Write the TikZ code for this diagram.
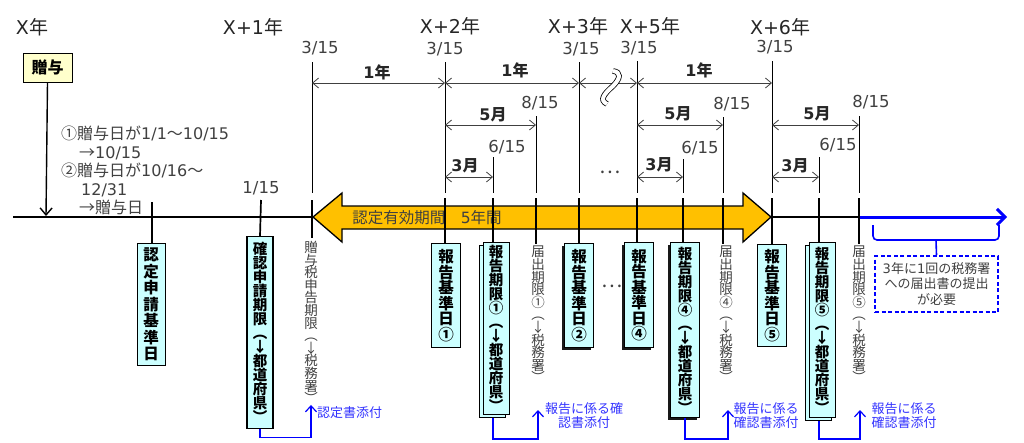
\documentclass[tikz,border=0pt]{standalone}
\usepackage{fontspec}
\setmainfont{Noto Sans CJK JP}
\newfontfamily\lat{DejaVu Sans}
\usetikzlibrary{arrows.meta,shadows}
\definecolor{cy}{HTML}{CCFFFF}
\definecolor{yl}{HTML}{FFFFCC}
\definecolor{og}{HTML}{FFC000}
\definecolor{bl}{HTML}{0000FF}
\definecolor{btc}{HTML}{3333FF}
\definecolor{gt}{HTML}{404040}
\begin{document}
\begin{tikzpicture}[x=1pt,y=-1pt,
  yr/.style={font=\fontsize{19}{19}\selectfont, text=black!85, inner sep=0pt},
  dt/.style={font=\lat\fontsize{16.5}{16.5}\selectfont, text=gt, inner sep=0pt},
  dl/.style={font=\fontsize{16}{16}\selectfont\bfseries, text=black!85, inner sep=0pt},
  dim/.style={draw=gt, line width=0.8pt, {Straight Barb[length=6pt,width=10pt]}-{Straight Barb[length=6pt,width=10pt]}},
  vl/.style={draw=black, line width=0.9pt},
  tk/.style={draw=black, line width=1.7pt},
  cbox/.style={draw=black, fill=cy, line width=0.9pt, inner sep=0pt, align=center, anchor=north, text=black},
  bfv/.style={font=\fontsize{15.5}{15.5}\selectfont\bfseries},
  bfvn/.style={font=\fontsize{15.5}{16.5}\selectfont\bfseries},
  bfvs/.style={font=\fontsize{14.5}{14}\selectfont\bfseries},
  gv/.style={text=gt, inner sep=0pt, align=center, anchor=north, font=\fontsize{13.5}{12.6}\selectfont},
  stack/.style={copy shadow={shadow xshift=-4pt, shadow yshift=-3pt}},
  dshadow/.style={drop shadow={shadow xshift=-2.2pt, shadow yshift=-2.2pt, fill=black!90, opacity=1}},
  bc/.style={draw=bl, line width=1.2pt, -{Straight Barb[length=6pt,width=11pt]}},
  btx/.style={text=btc, font=\fontsize{13}{14}\selectfont, align=center, inner sep=0pt},
  ell/.style={text=gt, font=\fontsize{20}{20}\selectfont, inner sep=0pt}
]
\useasboundingbox (0,0) rectangle (1024,442);

% year labels
\node[yr] (yX)  at (32,27)  {{\lat X}年};
\node[yr] (yX1) at (253,27) {{\lat X+1}年};
\node[yr] (yX2) at (450,26) {{\lat X+2}年};
\node[yr] (yX3) at (578,26) {{\lat X+3}年};
\node[yr] (yX5) at (650,26) {{\lat X+5}年};
\node[yr] (yX6) at (780,27) {{\lat X+6}年};

% date labels
\node[dt] (d1) at (320,48) {3/15};
\node[dt] (d2) at (445,49) {3/15};
\node[dt] (d3) at (581,49) {3/15};
\node[dt] (d5) at (639,48) {3/15};
\node[dt] (d6) at (775,47) {3/15};
\node[dt] (e2) at (540,103) {8/15};
\node[dt] (e5) at (732,104) {8/15};
\node[dt] (e6) at (871,102) {8/15};
\node[dt] (s2) at (507,147) {6/15};
\node[dt] (s5) at (700,148) {6/15};
\node[dt] (s6) at (838,145) {6/15};
\node[dt] (j15) at (261,188) {1/15};

% upper thin vertical lines
\foreach \n/\x/\t in {a/312/62, b/445/62, c/493/157, d/536/116, e/579/62, f/637/61, g/683/159, h/723/117, i/772/61, j/819/157, k/859/116}{
  \coordinate (u\n) at (\x,\t);
  \coordinate (w\n) at (\x,193);
  \draw[vl] (u\n) -- (w\n);
}

% dimension arrows
\foreach \p/\q/\y in {a/b/83, b/e/83, e/f/83, f/i/83, b/d/125, f/h/125, i/k/125, b/c/177, f/g/177, i/j/177}{
  \draw[dim] (u\p |- 0,\y) -- (u\q |- 0,\y);
}
\node[dl] (m1) at (377,72) {{\lat 1}年};
\node[dl] (m2) at (515,70) {{\lat 1}年};
\node[dl] (m3) at (699,70) {{\lat 1}年};
\node[dl] (f1) at (493,115) {{\lat 5}月};
\node[dl] (f2) at (678,114) {{\lat 5}月};
\node[dl] (f3) at (817,114) {{\lat 5}月};
\node[dl] (t1) at (465,166) {{\lat 3}月};
\node[dl] (t2) at (659,165) {{\lat 3}月};
\node[dl] (t3) at (795,166) {{\lat 3}月};

% break mark
\draw[line width=0.8pt, double=white, double distance=4pt]
  (613,71) .. controls (621,72) and (621,78) .. (613,86) .. controls (604,94) and (599,100) .. (607,104);

\node[ell] (dots1) at (610,172) {…};

% gift box
\node[draw=black, fill=yl, line width=1pt, minimum width=49, minimum height=29, inner sep=0pt,
  font=\fontsize{16}{16}\selectfont\bfseries] (gift) at (47.5,67.5) {贈与};
\coordinate (gp) at (46,216);
\draw[line width=1.4pt, -{Straight Barb[length=7pt,width=12pt]}] (gift.south) -- (gp);

% note text
\node[text=gt, font=\fontsize{16}{18.5}\selectfont, align=left, anchor=north west, inner sep=0pt] (cond) at (61,126)
 {①贈与日が{\lat 1/1}～{\lat 10/15}\\\hspace*{18pt}→{\lat 10/15}\\②贈与日が{\lat 10/16}～\\\hspace*{20pt}{\lat 12/31}\\\hspace*{18pt}→贈与日};

% timeline
\coordinate (tl0) at (13,217);
\coordinate (tl1) at (860,217);
\coordinate (tl2) at (1007,217);
\draw[line width=2.6pt] (tl0) -- (tl1);
\draw[line width=3pt, bl, -{Straight Barb[length=8pt,width=16pt]}] (tl1) -- (tl2);

% orange period arrow
\draw[fill=og, line width=1.3pt, line join=miter] (313,217) -- (342,193) -- (342,206) -- (743,206) -- (743,193) -- (771,217) -- (743,242) -- (743,229) -- (342,229) -- (342,242) -- cycle;
\node[text=gt, font=\fontsize{15.5}{15.5}\selectfont, inner sep=0pt] (valid) at (427,218) {認定有効期間　{\lat 5}年間};

% boxes
\node[cbox, bfvn, minimum width=28, minimum height=122] (n1) at (151,243) {認\\定\\申\\請\\基\\準\\日};
\node[cbox, bfvs, line width=1.4pt, minimum width=26, minimum height=192] (n2) at (260,236) {確\\認\\申\\請\\期\\限\\︵\\↓\\都\\道\\府\\県\\︶};
\node[gv] (g0) at (311,241) {贈\\与\\税\\申\\告\\期\\限\\︵\\↓\\税\\務\\署\\︶};
\node[cbox, bfv, minimum width=29, minimum height=104] (r1) at (446,243) {報\\告\\基\\準\\日\\①};
\node[cbox, bfvs, stack, minimum width=26, minimum height=172] (p1) at (496,242) {報\\告\\期\\限\\①\\︵\\↓\\都\\道\\府\\県\\︶};
\node[gv] (g1) at (538,246) {届\\出\\期\\限\\①\\︵\\↓\\税\\務\\署\\︶};
\node[cbox, bfv, dshadow, minimum width=29, minimum height=104] (r2) at (579,243) {報\\告\\基\\準\\日\\②};
\node[ell] (dots2) at (612,286) {…};
\node[cbox, bfv, dshadow, minimum width=29, minimum height=105] (r4) at (639,242) {報\\告\\基\\準\\日\\④};
\node[cbox, bfvs, dshadow, line width=1.4pt, minimum width=29, minimum height=175] (p4) at (685,242) {報\\告\\期\\限\\④\\︵\\↓\\都\\道\\府\\県\\︶};
\node[gv] (g4) at (726,246) {届\\出\\期\\限\\④\\︵\\↓\\税\\務\\署\\︶};
\node[cbox, bfv, minimum width=29, minimum height=102] (r5) at (772,244) {報\\告\\基\\準\\日\\⑤};
\node[cbox, bfvs, stack, minimum width=26, minimum height=175] (p5) at (822,242) {報\\告\\期\\限\\⑤\\︵\\↓\\都\\道\\府\\県\\︶};
\node[gv] (g5) at (859,246) {届\\出\\期\\限\\⑤\\︵\\↓\\税\\務\\署\\︶};

% ticks from timeline to boxes
\draw[tk] (152,202) -- (n1.north -| 152,0);
\draw[tk] (261,200) -- (n2.north);
\draw[tk] (312,200) -- (312,238);
\draw[tk] (445,198) -- (r1.north -| 445,0);
\draw[tk] (493,198) -- (p1.north -| 493,0);
\draw[tk] (536,198) -- (536,244);
\draw[tk] (579,198) -- (r2.north);
\draw[tk] (637,198) -- (r4.north -| 637,0);
\draw[tk] (683,198) -- (p4.north -| 683,0);
\draw[tk] (723,198) -- (723,244);
\draw[tk] (772,198) -- (r5.north);
\draw[tk] (819,198) -- (p5.north -| 819,0);
\draw[tk] (859,198) -- (859,244);

% blue connectors
\coordinate (a1) at (538,410);
\coordinate (a4) at (728,410);
\coordinate (a5) at (860,410);
\draw[bc] (n2.south) -- ++(0,8) -| ([yshift=-1pt]g0.south);
\draw[bc] ([xshift=-3pt,yshift=-3pt]p1.south) -- (493,439) -| (a1);
\draw[bc] (p4.south) -- (685,439) -| (a4);
\draw[bc] ([xshift=-3pt,yshift=-3pt]p5.south) -- (819,439) -| (a5);
\node[btx, anchor=west] (l0) at (317,413) {認定書添付};
\node[btx] (l1) at (584,416) {報告に係る確\\認書添付};
\node[btx] (l4) at (766,416) {報告に係る\\確認書添付};
\node[btx] (l5) at (904,416) {報告に係る\\確認書添付};

% bracket and note
\node[draw=bl, dashed, dash pattern=on 4pt off 2.5pt, line width=1.5pt, minimum width=123, minimum height=56, inner sep=0pt,
  align=center, text=gt, font=\fontsize{13}{15.5}\selectfont] (note) at (936.5,284)
  {{\lat 3}年に{\lat 1}回の税務署\\への届出書の提出\\が必要};
\draw[bl, line width=1.6pt, rounded corners=4pt] (873,225) -- (873,240) -- (999,240) -- (999,225);
\draw[bl, line width=1.6pt] (936,240) -- (note.north);
\end{tikzpicture}
\end{document}
